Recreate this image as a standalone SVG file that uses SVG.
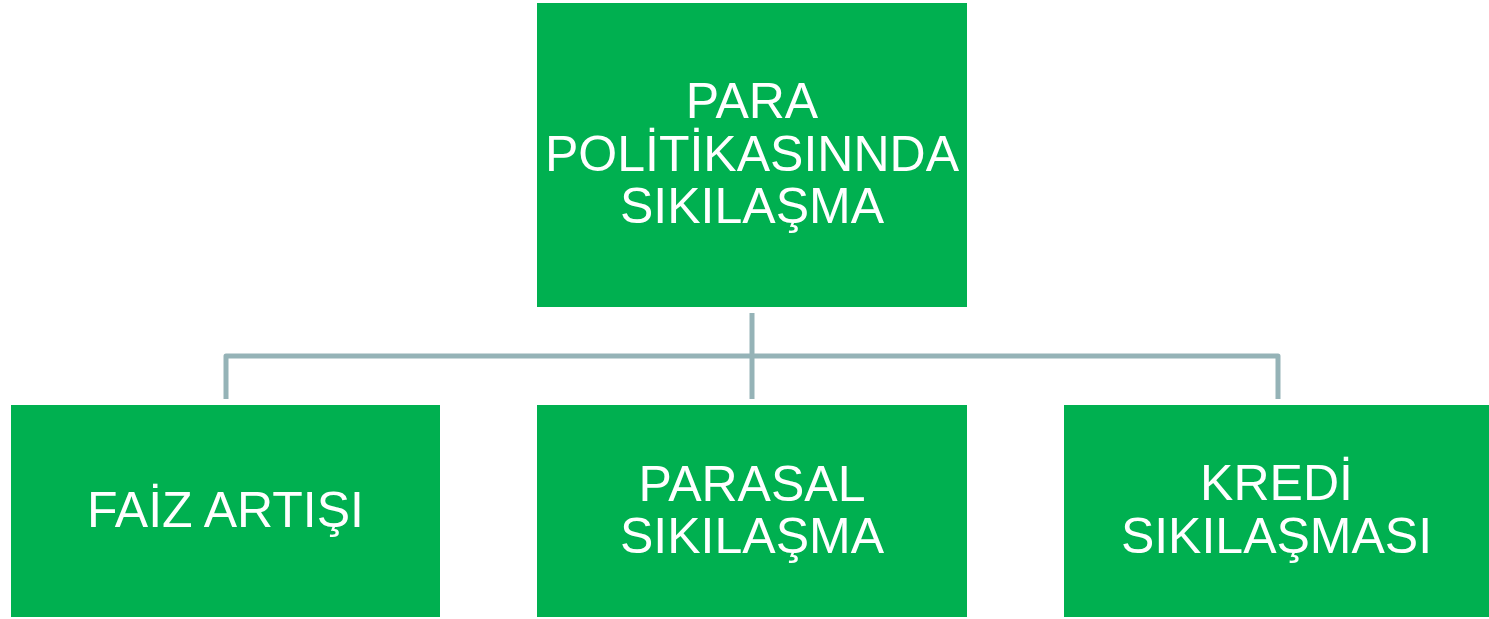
<svg xmlns="http://www.w3.org/2000/svg" width="1489" height="619" viewBox="0 0 1489 619">
<style>
.box{fill:#00B050}
.t{fill:#FFFFFF;font-family:"Liberation Sans",Arial,sans-serif;font-size:50px;text-anchor:middle}
.c{fill:none;stroke:#95B3B7;stroke-width:5;stroke-linejoin:round}
</style>
<rect width="1489" height="619" fill="#FFFFFF"/>
<g id="connectors">
<path class="c" d="M752,313 V399"/>
<path class="c" d="M226,399 V356 H1278 V399"/>
</g>
<g id="node-top">
<rect class="box" x="537" y="3" width="430" height="304"/>
<text class="t" x="752" y="118">PARA</text>
<text class="t" x="752" y="170.5">POLİTİKASINNDA</text>
<text class="t" x="752" y="222.5">SIKILAŞMA</text>
</g>
<g id="node-faiz">
<rect class="box" x="11" y="405" width="429" height="212"/>
<text class="t" x="225.5" y="527">FAİZ ARTIŞI</text>
</g>
<g id="node-parasal">
<rect class="box" x="537" y="405" width="430" height="212"/>
<text class="t" x="752" y="500.5">PARASAL</text>
<text class="t" x="752" y="552.5">SIKILAŞMA</text>
</g>
<g id="node-kredi">
<rect class="box" x="1064" y="405" width="425" height="212"/>
<text class="t" x="1276.5" y="500">KREDİ</text>
<text class="t" x="1276.5" y="552.5">SIKILAŞMASI</text>
</g>
</svg>
